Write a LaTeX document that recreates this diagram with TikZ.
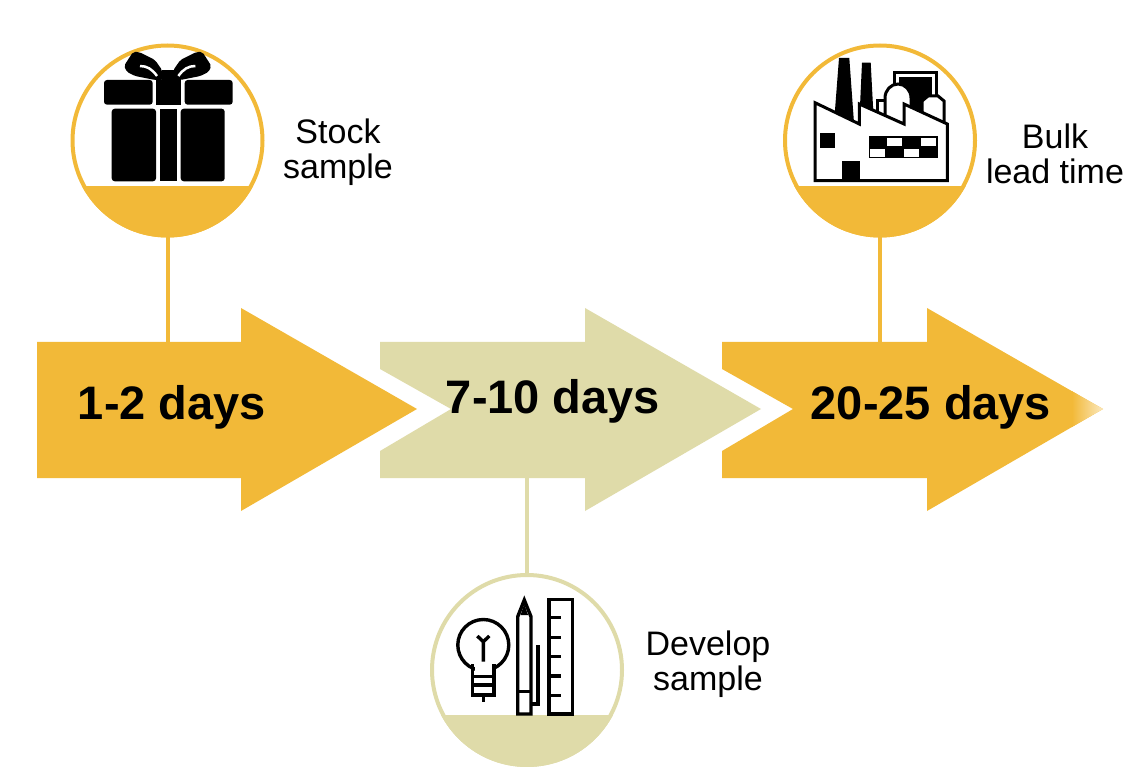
\documentclass[tikz,border=0pt]{standalone}
\usepackage{fontspec}
\setmainfont{Liberation Sans}
\definecolor{goldBand}{HTML}{F2B938}
\definecolor{sageBand}{HTML}{DFDBA9}
\tikzset{
  ringnode/.style={circle, draw=#1, line width=4pt, minimum size=190pt, inner sep=0pt, outer sep=0pt},
  link/.style={draw=#1, line width=4pt},
  daylabel/.style={font=\fontsize{47}{50}\selectfont\bfseries, inner sep=0pt},
  sidelabel/.style={font=\fontsize{34}{35}\selectfont, align=center, inner sep=0pt},
  icon/.style={draw=black, line width=3.4pt, line cap=butt, line join=miter},
  plant/.style={draw=black, line width=3pt, line cap=butt, line join=miter}
}
\begin{document}
\begin{tikzpicture}[x=1pt, y=-1pt]
\useasboundingbox (0,0) rectangle (1146,767);
% Circles with their filled bottom
\begin{scope}
  \clip (167.5,140.5) circle (97);
  \fill[goldBand] (60,186) rectangle (280,240);
\end{scope}
\begin{scope}
  \clip (880,140.5) circle (97);
  \fill[goldBand] (770,186) rectangle (990,240);
\end{scope}
\begin{scope}
  \clip (527,670) circle (97);
  \fill[sageBand] (420,715) rectangle (640,767);
\end{scope}
\node[ringnode=goldBand] (ringStock) at (167.5,140.5) {};
\node[ringnode=goldBand] (ringBulk) at (880,140.5) {};
\node[ringnode=sageBand] (ringDevelop) at (527,670) {};
% Connectors
\coordinate (shaftStock) at (167.5,344);
\coordinate (shaftDevelop) at (527,476);
\coordinate (shaftBulk) at (880,344);
\draw[link=goldBand] (ringStock.south) -- (shaftStock);
\draw[link=sageBand] (ringDevelop.north) -- (shaftDevelop);
\draw[link=goldBand] (ringBulk.south) -- (shaftBulk);
% Arrows
\fill[goldBand] (37,342) -- (241,342) -- (241,308) -- (417,409) -- (241,511) -- (241,478) -- (37,478) -- cycle;
\fill[sageBand] (380,342) -- (585,342) -- (585,308) -- (761,409) -- (585,511) -- (585,478) -- (380,478) -- (380,451) -- (451,409) -- (380,369) -- cycle;
\fill[goldBand] (722,342) -- (927,342) -- (927,308) -- (1103,409) -- (927,511) -- (927,478) -- (722,478) -- (722,451) -- (793,409) -- (722,369) -- cycle;
% Faded tip of the last arrow
\begin{scope}
  \clip (927,308) -- (1103,409) -- (927,511) -- cycle;
  \shade[left color=goldBand, right color=white!70!goldBand] (1072,360) rectangle (1104,460);
\end{scope}
% Day labels
\node[daylabel] (dayStock) at (172,407) {1-2 days};
\node[daylabel] (dayDevelop) at (553,401) {7-10 days};
\node[daylabel] (dayBulk) at (931,407) {20-25 days};
% Side labels
\node[sidelabel] (textStock) at (338,152) {Stock\\sample};
\node[sidelabel] (textBulk) at (1055,154) {Bulk\\lead time};
\node[sidelabel] (textDevelop) at (708,664.5) {Develop\\sample};
% Gift
\begin{scope}[fill=black]
  \fill[rounded corners=3pt] (104,80) rectangle (152.7,104.7);
  \fill[rounded corners=3pt] (184.7,80) rectangle (232.7,104.7);
  \fill (156,80) rectangle (181.3,104.7);
  \fill (162,70) rectangle (174,80);
  \fill[rounded corners=3pt] (111.7,108.7) -- (156,108.7) -- (156,181.3) -- (111.7,181.3) -- cycle;
  \fill (160,108.7) rectangle (176.7,181.3);
  \fill[rounded corners=3pt] (180.7,108.7) -- (224.7,108.7) -- (224.7,181.3) -- (180.7,181.3) -- cycle;
  \fill[rounded corners=2pt] (124,66) -- (133,52) -- (139,52) -- (155,60) -- (162,70) -- (163,80) -- (155,80) -- (135,76) -- (127,72) -- cycle;
  \fill[rounded corners=2pt] (211.4,66) -- (202.4,52) -- (196.4,52) -- (180.4,60) -- (173.4,70) -- (172.4,80) -- (180.4,80) -- (200.4,76) -- (208.4,72) -- cycle;
\end{scope}
\draw[white, line width=2.5pt] (140,66) .. controls (147,66) and (152,69) .. (157,76);
\draw[white, line width=2.5pt] (195.4,66) .. controls (188.4,66) and (183.4,69) .. (178.4,76);
% Factory
\draw[plant] (894,110) -- (894,73) -- (936,73) -- (936,110);
\fill (899.3,77.3) rectangle (931.7,110);
\draw[plant, fill=white] (877,112) -- (877,101) -- (890,101) -- (890,112);
\draw[plant, fill=white] (885,118) -- (885,98) arc (180:360:13 and 14) -- (911,118);
\draw[plant, fill=white] (922,120) -- (922,101) -- (928,96) -- (938,96) -- (944,101) -- (944,122);
\fill (839,58) -- (849.3,58) -- (854,123) -- (834.7,114) -- cycle;
\fill (862,62.7) -- (870.7,62.7) -- (873.3,112) -- (860,106) -- cycle;
\draw[plant, fill=white] (815,102.7) -- (859.3,124) -- (859.3,104) -- (904,124) -- (904,104) -- (947.3,124) -- (947.3,180.7) -- (815,180.7) -- cycle;
\fill (820,133.3) rectangle (835,148.3);
\fill (841.7,161.3) rectangle (860,180.7);
\fill (868.7,136) rectangle (938,158);
\fill[white] (886.7,138.3) rectangle (902,146);
\fill[white] (921.3,138.3) rectangle (936,146);
\fill[white] (870,148.7) rectangle (885,156.7);
\fill[white] (904,148.7) rectangle (919.3,156.7);
% Bulb
\draw[icon, fill=white] (483.3,645) circle (25.5);
\fill[white] (474.5,664) rectangle (492.2,673);
\draw[icon] (472.7,664) -- (472.7,695) -- (494,695) -- (494,664);
\draw[icon] (472.7,676.7) -- (494,676.7);
\draw[icon] (472.7,685) -- (494,685);
\draw[icon] (483.3,695) -- (483.3,701.7);
\draw[icon] (483.3,661.7) -- (483.3,641.7) -- (477.3,636);
\draw[icon] (483.3,641.7) -- (489.3,636);
% Pencil
\draw[icon] (517.7,616.7) -- (524.3,600) -- (531,616.7) -- (531,714) -- (517.7,714) -- cycle;
\draw[icon] (517.7,691.7) -- (531,691.7);
\fill (524.3,604) -- (528,615) -- (520.6,615) -- cycle;
\draw[icon] (538,645) -- (538,704) -- (531,704);
% Ruler
\draw[icon] (549,599.3) rectangle (572.3,714);
\draw[icon] (549,617.7) -- (561,617.7);
\draw[icon] (549,637.3) -- (561,637.3);
\draw[icon] (549,656.7) -- (561,656.7);
\draw[icon] (549,676) -- (561,676);
\draw[icon] (549,695.3) -- (561,695.3);
\end{tikzpicture}
\end{document}
